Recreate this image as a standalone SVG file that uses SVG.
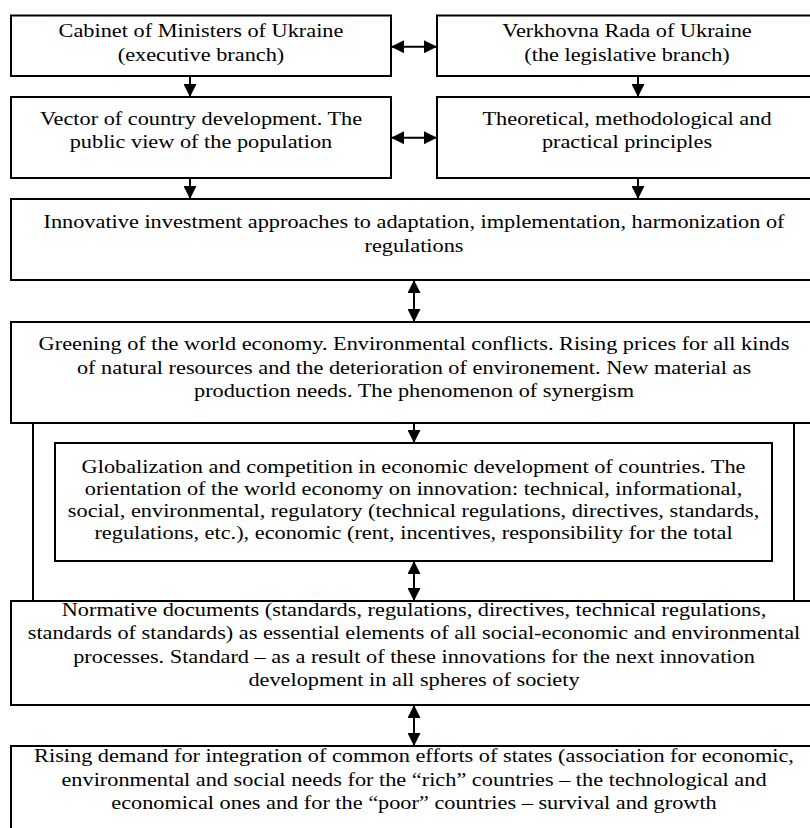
<svg xmlns="http://www.w3.org/2000/svg" width="810" height="828" viewBox="0 0 810 828">
<style>
.box{fill:#fff;stroke:#000;stroke-width:2}
.ln{fill:none;stroke:#000;stroke-width:2}
text{font-family:"Liberation Serif","Times New Roman",serif;font-size:19.5px;fill:#000;text-anchor:middle}
</style>
<defs>
<marker id="ah" viewBox="0 0 13 13" refX="13" refY="6.5" markerWidth="13" markerHeight="13" markerUnits="userSpaceOnUse" orient="auto-start-reverse">
<path d="M0,0 L13,6.5 L0,13 z" fill="#000"/>
</marker>
</defs>
<rect width="810" height="828" fill="#fff"/>

<g id="cabinet">
<rect class="box" x="11" y="15.5" width="380" height="60.5"/>
<text transform="scale(1.144 1)"><tspan x="175.7" y="37.5">Cabinet of Ministers of Ukraine</tspan><tspan x="175.7" y="61.5">(executive branch)</tspan></text>
</g>
<g id="rada">
<rect class="box" x="437" y="15.5" width="380" height="60.5"/>
<text transform="scale(1.144 1)"><tspan x="548.1" y="37.5">Verkhovna Rada of Ukraine</tspan><tspan x="548.1" y="61.5">(the legislative branch)</tspan></text>
</g>
<g id="vector">
<rect class="box" x="11" y="97" width="380" height="81"/>
<text transform="scale(1.144 1)"><tspan x="175.7" y="125">Vector of country development. The</tspan><tspan x="175.7" y="148.5">public view of the population</tspan></text>
</g>
<g id="principles">
<rect class="box" x="437" y="97" width="380" height="81"/>
<text transform="scale(1.144 1)"><tspan x="548.1" y="125">Theoretical, methodological and</tspan><tspan x="548.1" y="148.5">practical principles</tspan></text>
</g>
<g id="innovative">
<rect class="box" x="11" y="199" width="806" height="81"/>
<text transform="scale(1.144 1)"><tspan x="361.9" y="228.5">Innovative investment approaches to adaptation, implementation, harmonization of</tspan><tspan x="361.9" y="252">regulations</tspan></text>
</g>
<g id="greening">
<rect class="box" x="11" y="322" width="806" height="101"/>
<text transform="scale(1.144 1)"><tspan x="361.9" y="350">Greening of the world economy. Environmental conflicts. Rising prices for all kinds</tspan><tspan x="361.9" y="373.7">of natural resources and the deterioration of environement. New material as</tspan><tspan x="361.9" y="397.3">production needs. The phenomenon of synergism</tspan></text>
</g>
<g id="globalization">
<rect class="box" x="55" y="443" width="717" height="118"/>
<text transform="scale(1.144 1)"><tspan x="361.5" y="473">Globalization and competition in economic development of countries. The</tspan><tspan x="361.5" y="495.5">orientation of the world economy on innovation: technical, informational,</tspan><tspan x="361.5" y="517">social, environmental, regulatory (technical regulations, directives, standards,</tspan><tspan x="361.5" y="539">regulations, etc.), economic (rent, incentives, responsibility for the total</tspan></text>
</g>
<g id="normative">
<rect class="box" x="11" y="601" width="806" height="104"/>
<text transform="scale(1.144 1)"><tspan x="361.9" y="616">Normative documents (standards, regulations, directives, technical regulations,</tspan><tspan x="361.9" y="639.5">standards of standards) as essential elements of all social-economic and environmental</tspan><tspan x="361.9" y="663">processes. Standard – as a result of these innovations for the next innovation</tspan><tspan x="361.9" y="686.5">development in all spheres of society</tspan></text>
</g>
<g id="integration">
<rect class="box" x="11" y="746" width="806" height="86"/>
<text transform="scale(1.144 1)"><tspan x="361.9" y="762.5">Rising demand for integration of common efforts of states (association for economic,</tspan><tspan x="361.9" y="786">environmental and social needs for the “rich” countries – the technological and</tspan><tspan x="361.9" y="809.5">economical ones and for the “poor” countries – survival and growth</tspan></text>
</g>

<g id="connectors">
<line class="ln" x1="391" y1="46.7" x2="437" y2="46.7" marker-start="url(#ah)" marker-end="url(#ah)"/>
<line class="ln" x1="391" y1="137.7" x2="437" y2="137.7" marker-start="url(#ah)" marker-end="url(#ah)"/>
<line class="ln" x1="190" y1="76" x2="190" y2="97" marker-end="url(#ah)"/>
<line class="ln" x1="638" y1="76" x2="638" y2="97" marker-end="url(#ah)"/>
<line class="ln" x1="190" y1="178" x2="190" y2="199" marker-end="url(#ah)"/>
<line class="ln" x1="638" y1="178" x2="638" y2="199" marker-end="url(#ah)"/>
<line class="ln" x1="414" y1="280" x2="414" y2="322" marker-start="url(#ah)" marker-end="url(#ah)"/>
<line class="ln" x1="414" y1="423" x2="414" y2="443" marker-end="url(#ah)"/>
<line class="ln" x1="414" y1="561" x2="414" y2="601" marker-start="url(#ah)" marker-end="url(#ah)"/>
<line class="ln" x1="414" y1="705" x2="414" y2="746" marker-start="url(#ah)" marker-end="url(#ah)"/>
<line class="ln" x1="33" y1="423" x2="33" y2="601"/>
<line class="ln" x1="794" y1="423" x2="794" y2="601"/>
</g>
</svg>
